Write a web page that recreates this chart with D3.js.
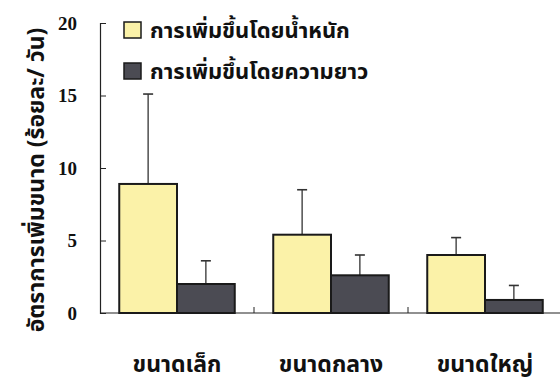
<!DOCTYPE html>
<html>
<head>
<meta charset="utf-8">
<script src="https://cdn.jsdelivr.net/npm/d3@7"></script>
<style>
  body { margin: 0; background: #fff; }
  svg { display: block; }
</style>
</head>
<body>
<svg></svg>
<script>
const w = 560;
const h = 381;
const svg = d3.select('svg').attr('width', w).attr('height', h);

// data
const categories = ['ขนาดเล็ก', 'ขนาดกลาง', 'ขนาดใหญ่'];
const seriesNames = ['การเพิ่มขึ้นโดยน้ำหนัก', 'การเพิ่มขึ้นโดยความยาว'];
const weightMeans = [8.9, 5.4, 4.0];
const weightErr = [6.2, 3.1, 1.2];
const lengthMeans = [2.0, 2.6, 0.9];
const lengthErr = [1.6, 1.4, 1.0];
const yTicks = [0, 5, 10, 15, 20];

const colors = ['#fbf2a8', '#4b4b53'];
const thai = "Tahoma, 'Noto Sans Thai', 'DejaVu Sans', sans-serif";

const padLeft = 100, padRight = 562, padTop = 23, padBottom = 313;

const x = d3.scaleBand().domain(categories).range([padLeft, padRight])
  .paddingInner(0.25).paddingOuter(0.125);
const sub = d3.scaleBand().domain([0, 1]).range([0, x.bandwidth()]);
const y = d3.scaleLinear().domain([0, 20]).range([padBottom, padTop]);

const rows = categories.map((c, i) => ({
  cat: c,
  vals: [
    { s: 0, v: weightMeans[i], e: weightErr[i] },
    { s: 1, v: lengthMeans[i], e: lengthErr[i] },
  ],
}));

// y axis
const yAxis = d3.axisLeft(y).tickValues(yTicks).tickSizeInner(-6).tickSizeOuter(-6).tickPadding(23);
const gy = svg.append('g').attr('transform', `translate(${padLeft},0)`).call(yAxis);
gy.select('.domain').attr('stroke', '#222').attr('stroke-width', 1.2);
gy.selectAll('.tick line').attr('stroke', '#222');
gy.selectAll('.tick text')
  .attr('font-family', "'Liberation Serif', 'Times New Roman', serif")
  .attr('font-weight', 'bold').attr('font-size', 19).attr('fill', '#111');

// x axis baseline and separators
svg.append('line').attr('x1', padLeft).attr('x2', w).attr('y1', y(0)).attr('y2', y(0))
  .attr('stroke', '#222').attr('stroke-width', 1.2);
svg.selectAll('.sep').data(categories.slice(1)).enter().append('line')
  .attr('class', 'sep')
  .attr('x1', (d) => x(d) - x.step() * x.paddingInner() / 2)
  .attr('x2', (d) => x(d) - x.step() * x.paddingInner() / 2)
  .attr('y1', y(0)).attr('y2', y(0) - 6)
  .attr('stroke', '#222');

// bars
const groups = svg.selectAll('.grp').data(rows).enter().append('g')
  .attr('class', 'grp').attr('transform', (d) => `translate(${x(d.cat)},0)`);

// error bars (upper only)
groups.selectAll('.err').data((d) => d.vals).enter().append('g').attr('class', 'err')
  .each(function (d) {
    const g = d3.select(this);
    const cx = sub(d.s) + sub.bandwidth() / 2;
    g.append('line').attr('x1', cx).attr('x2', cx)
      .attr('y1', y(d.v)).attr('y2', y(d.v + d.e))
      .attr('stroke', '#333').attr('stroke-width', 1.3);
    g.append('line').attr('x1', cx - 5).attr('x2', cx + 5)
      .attr('y1', y(d.v + d.e)).attr('y2', y(d.v + d.e))
      .attr('stroke', '#333').attr('stroke-width', 1.6);
  });

groups.selectAll('rect').data((d) => d.vals).enter().append('rect')
  .attr('x', (d) => sub(d.s))
  .attr('y', (d) => y(d.v))
  .attr('width', sub.bandwidth())
  .attr('height', (d) => y(0) - y(d.v))
  .attr('fill', (d) => colors[d.s])
  .attr('stroke', '#1a1a1a').attr('stroke-width', 2);

// category labels
svg.selectAll('.cat').data(categories).enter().append('text')
  .attr('class', 'cat')
  .attr('x', (d) => x(d) + x.bandwidth() / 2)
  .attr('y', 372)
  .attr('text-anchor', 'middle')
  .attr('font-family', thai).attr('font-size', 23).attr('font-weight', 'bold')
  .attr('fill', '#111')
  .text((d) => d);

// legend
const legend = svg.selectAll('.leg').data(seriesNames).enter().append('g')
  .attr('class', 'leg')
  .attr('transform', (d, i) => `translate(124,${22 + i * 41})`);
legend.append('rect').attr('width', 17).attr('height', 16)
  .attr('fill', (d, i) => colors[i]).attr('stroke', '#1a1a1a').attr('stroke-width', 1.5);
legend.append('text').attr('x', 26).attr('y', 16)
  .attr('font-family', thai).attr('font-size', 22).attr('font-weight', 'bold')
  .attr('fill', '#111').text((d) => d);

// y title
svg.append('text')
  .attr('transform', `translate(44,${(padTop + padBottom) / 2 + 12}) rotate(-90)`)
  .attr('text-anchor', 'middle')
  .attr('font-family', thai).attr('font-size', 23).attr('font-weight', 'bold')
  .attr('fill', '#111')
  .text('อัตราการเพิ่มขนาด (ร้อยละ/ วัน)');
</script>
</body>
</html>
